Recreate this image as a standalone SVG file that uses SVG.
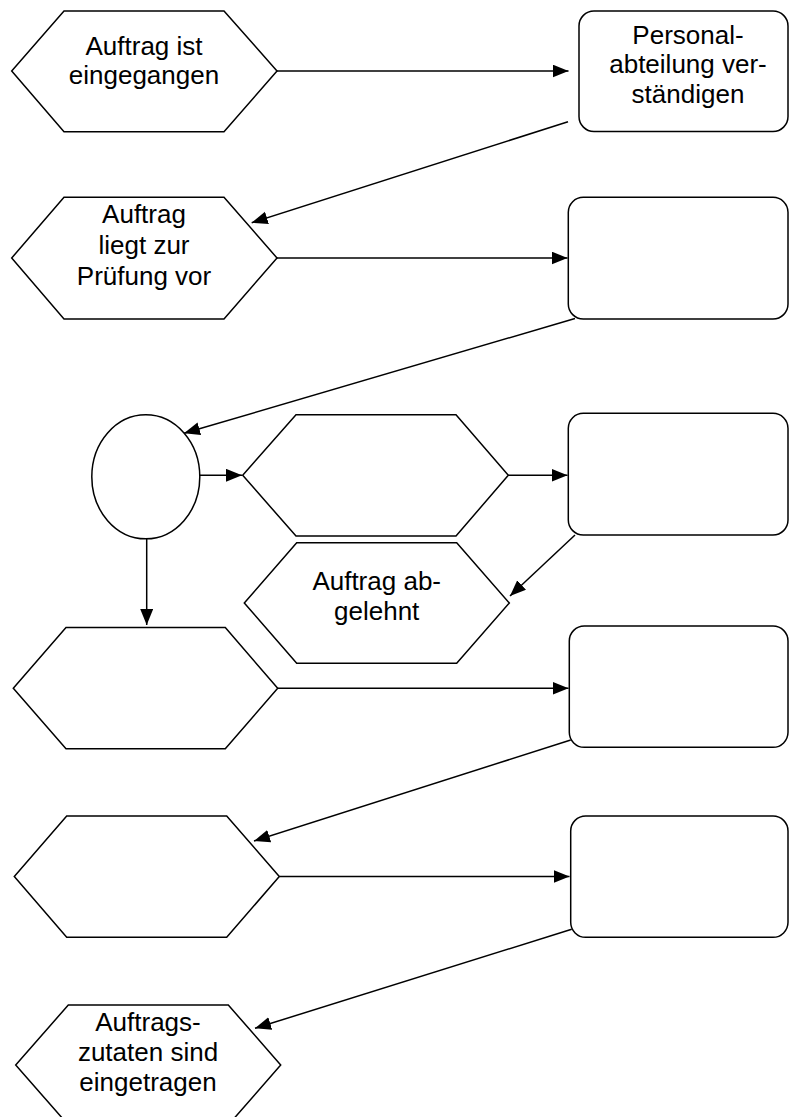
<svg xmlns="http://www.w3.org/2000/svg" width="789" height="1117" viewBox="0 0 789 1117">
<style>
.shape{fill:#fff;stroke:#000;stroke-width:1.5;stroke-linejoin:miter}
.conn{fill:none;stroke:#000;stroke-width:1.5}
.lbl{font-family:"Liberation Sans",Arial,sans-serif;font-size:26px;fill:#000;text-anchor:middle}
</style>
<defs>
<marker id="arr" markerUnits="userSpaceOnUse" markerWidth="17" markerHeight="14" refX="16" refY="6.5" orient="auto">
<path d="M0,0 L16,6.5 L0,13 z" fill="#000"/>
</marker>
</defs>
<rect width="789" height="1117" fill="#fff"/>
<g id="hex1">
<polygon class="shape" points="11.7,71 64,11 224,11 277,71 224,131.7 64,131.7"/>
<text class="lbl" x="144" y="54.5">Auftrag ist</text>
<text class="lbl" x="144" y="84">eingegangen</text>
</g>
<g id="rect1">
<rect class="shape" x="579" y="11" width="209" height="120.5" rx="15" ry="15"/>
<text class="lbl" x="688" y="43.5">Personal-</text>
<text class="lbl" x="688" y="73">abteilung ver-</text>
<text class="lbl" x="688" y="102.5">ständigen</text>
</g>
<g id="hex2">
<polygon class="shape" points="11.7,258 64,197.3 224,197.3 277,258 224,319 64,319"/>
<text class="lbl" x="144" y="222.7">Auftrag</text>
<text class="lbl" x="144" y="253.5">liegt zur</text>
<text class="lbl" x="144" y="285">Prüfung vor</text>
</g>
<g id="rect2">
<rect class="shape" x="568.3" y="197.3" width="219.7" height="121.7" rx="15" ry="15"/>
</g>
<g id="ellipse1">
<ellipse class="shape" cx="145.8" cy="476.8" rx="54" ry="62"/>
</g>
<g id="hex3">
<polygon class="shape" points="242.7,475.3 296,414.7 456,414.7 508.3,475.3 456,536 296,536"/>
</g>
<g id="rect3">
<rect class="shape" x="568.3" y="413.3" width="219.7" height="121.7" rx="15" ry="15"/>
</g>
<g id="hex4">
<polygon class="shape" points="244.3,603 296.7,542.7 456.7,542.7 509.3,603 456.7,663.3 296.7,663.3"/>
<text class="lbl" x="376.7" y="590">Auftrag ab-</text>
<text class="lbl" x="376.7" y="620">gelehnt</text>
</g>
<g id="hex5">
<polygon class="shape" points="13.3,688.3 66,627.5 225.3,627.5 277.7,688.3 225.3,748.7 66,748.7"/>
</g>
<g id="rect4">
<rect class="shape" x="569.3" y="626" width="218.7" height="121.3" rx="15" ry="15"/>
</g>
<g id="hex6">
<polygon class="shape" points="14.3,876.5 66.7,816 226.7,816 279.3,876.5 226.7,937.3 66.7,937.3"/>
</g>
<g id="rect5">
<rect class="shape" x="570.7" y="816" width="217.3" height="121.3" rx="15" ry="15"/>
</g>
<g id="hex7">
<polygon class="shape" points="15.7,1065 68.3,1005 228.3,1005 280.7,1065 228.3,1125 68.3,1125"/>
<text class="lbl" x="148" y="1030.7">Auftrags-</text>
<text class="lbl" x="148" y="1061">zutaten sind</text>
<text class="lbl" x="148" y="1090.7">eingetragen</text>
</g>
<g id="connectors">
<line class="conn" x1="277" y1="71" x2="568.5" y2="71" marker-end="url(#arr)"/>
<line class="conn" x1="568" y1="121.7" x2="251.7" y2="222.7" marker-end="url(#arr)"/>
<line class="conn" x1="277" y1="258" x2="567.5" y2="258" marker-end="url(#arr)"/>
<line class="conn" x1="575" y1="318.5" x2="184" y2="433.3" marker-end="url(#arr)"/>
<line class="conn" x1="200" y1="475.3" x2="242" y2="475.3" marker-end="url(#arr)"/>
<line class="conn" x1="508.3" y1="475.3" x2="567.5" y2="475.3" marker-end="url(#arr)"/>
<line class="conn" x1="575" y1="535" x2="510" y2="596" marker-end="url(#arr)"/>
<line class="conn" x1="146.7" y1="539" x2="146.7" y2="625" marker-end="url(#arr)"/>
<line class="conn" x1="277.7" y1="688.3" x2="568.5" y2="688.3" marker-end="url(#arr)"/>
<line class="conn" x1="570.7" y1="740" x2="254" y2="841" marker-end="url(#arr)"/>
<line class="conn" x1="279.3" y1="876.5" x2="569.5" y2="876.5" marker-end="url(#arr)"/>
<line class="conn" x1="571.7" y1="929.3" x2="255" y2="1028.3" marker-end="url(#arr)"/>
</g>
</svg>
